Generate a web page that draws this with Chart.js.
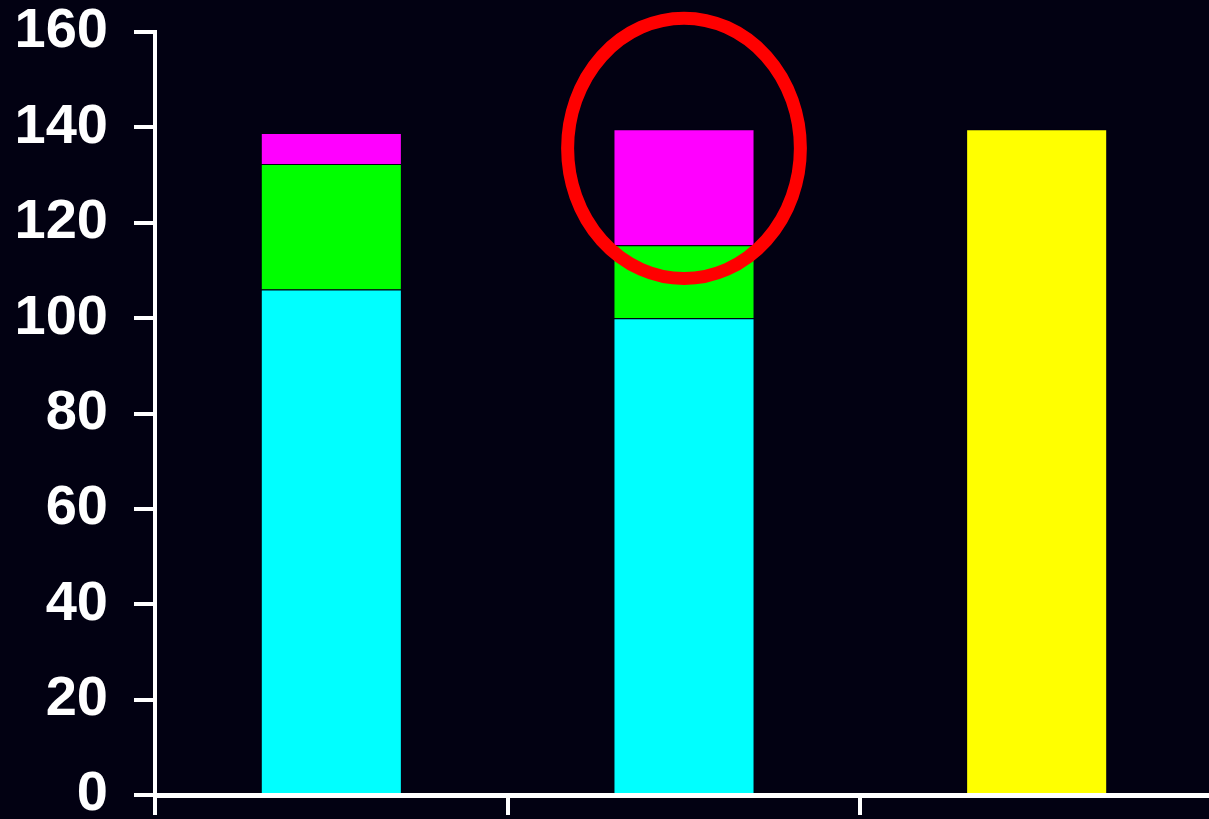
<!DOCTYPE html>
<html>
<head>
<meta charset="utf-8">
<script src="https://cdn.jsdelivr.net/npm/chart.js@4"></script>
<style>
  html, body { margin: 0; padding: 0; background: #020112; overflow: hidden; }
  #wrap { width: 1213px; height: 819px; position: relative; }
</style>
</head>
<body>
<div id="wrap"><canvas id="myChart"></canvas></div>
<script>
// data
const categories = ['', '', ''];
const cyanValues = [106, 100, null];
const greenValues = [26.3, 15.3, null];
const magentaValues = [6.5, 24.3, null];
const yellowValues = [null, null, 139.6];
const yTicks = [0, 20, 40, 60, 80, 100, 120, 140, 160];

// red ring drawn round the top of the middle bar
const ring = { index: 1, value: 135.6, halfHeight: 27.3, halfWidth: 0.33 };

const bgPlugin = {
  id: 'bg',
  beforeDraw(chart) {
    const c = chart.ctx;
    c.save();
    c.fillStyle = '#020112';
    c.fillRect(0, 0, chart.width, chart.height);
    c.restore();
  }
};

const ringPlugin = {
  id: 'ring',
  afterDraw(chart) {
    const x = chart.scales.x, y = chart.scales.y;
    const cx = x.getPixelForValue(ring.index);
    const cy = y.getPixelForValue(ring.value);
    const catW = x.getPixelForValue(1) - x.getPixelForValue(0);
    const rx = catW * ring.halfWidth;
    const ry = Math.abs(y.getPixelForValue(ring.value + ring.halfHeight) - cy);
    const c = chart.ctx;
    c.save();
    c.strokeStyle = '#ff0000';
    c.lineWidth = 13;
    c.beginPath();
    c.ellipse(cx, cy, rx, ry, 0, 0, Math.PI * 2);
    c.stroke();
    c.restore();
  }
};

function bar(data, color) {
  return {
    data: data,
    backgroundColor: color,
    borderColor: '#020112',
    borderWidth: 1,
    barPercentage: 0.4,
    categoryPercentage: 1,
    stack: 's'
  };
}

new Chart(document.getElementById('myChart'), {
  type: 'bar',
  data: {
    labels: categories,
    datasets: [
      bar(cyanValues, '#00ffff'),
      bar(greenValues, '#00ff00'),
      bar(magentaValues, '#ff00ff'),
      bar(yellowValues, '#ffff00')
    ]
  },
  options: {
    responsive: true,
    maintainAspectRatio: false,
    animation: false,
    layout: { padding: { top: 32, left: 0, right: 0, bottom: 0 } },
    plugins: { legend: { display: false }, tooltip: { enabled: false } },
    scales: {
      x: {
        stacked: true,
        offset: true,
        grid: { display: true, offset: true, drawOnChartArea: false, drawTicks: true, tickLength: 20, color: '#ffffff', lineWidth: 4 },
        border: { display: true, color: '#ffffff', width: 5 },
        ticks: { display: false },
        afterFit(s) { s.height = 24; s.paddingLeft = 0; s.paddingRight = 0; }
      },
      y: {
        stacked: true,
        min: 0,
        max: 160,
        afterBuildTicks(s) { s.ticks = yTicks.map(v => ({ value: v })); },
        grid: { drawOnChartArea: false, drawTicks: true, tickLength: 21, color: '#ffffff', lineWidth: 4 },
        border: { display: true, color: '#ffffff', width: 4 },
        ticks: {
          color: '#ffffff',
          padding: 26,
          font: { family: "'Liberation Sans', Arial, sans-serif", size: 56, weight: 'bold' }
        },
        afterFit(s) { s.width = 155; s.paddingTop = 0; s.paddingBottom = 0; }
      }
    }
  },
  plugins: [bgPlugin, ringPlugin]
});
</script>
</body>
</html>
